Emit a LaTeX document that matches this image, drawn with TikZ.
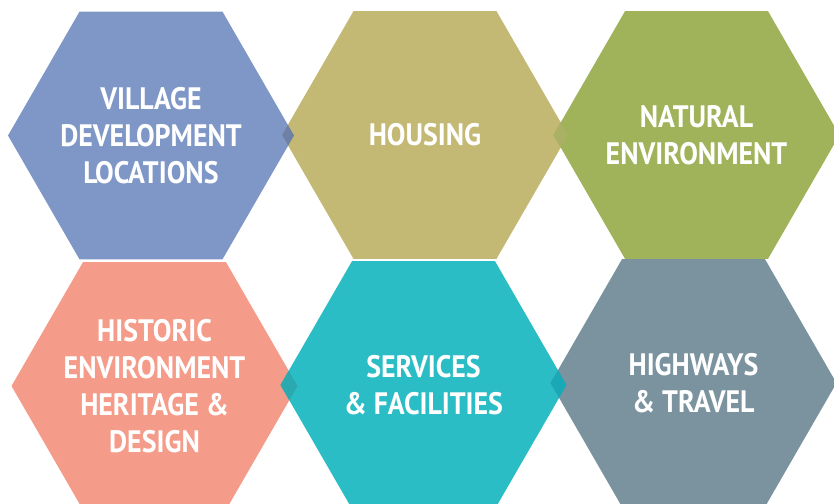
\documentclass[tikz,border=0pt]{standalone}
\usepackage{fontspec}
\newfontfamily\hexfont[FakeStretch=0.9]{PT Sans}
\usetikzlibrary{shapes.geometric}
\definecolor{hblue}{HTML}{7F97C7}
\definecolor{holive}{HTML}{C3B874}
\definecolor{hgreen}{HTML}{A0B35A}
\definecolor{hsalmon}{HTML}{F59B89}
\definecolor{hteal}{HTML}{2BBDC5}
\definecolor{hslate}{HTML}{7A939F}
\definecolor{ovbo}{HTML}{6E80A6}
\definecolor{ovog}{HTML}{AAB064}
\definecolor{ovst}{HTML}{2AA9AF}
\definecolor{ovts}{HTML}{19A8B5}
\tikzset{
  hexa/.style={regular polygon, regular polygon sides=6,
    minimum size=286pt, inner sep=0pt, outer sep=0pt, draw=none, fill=#1},
  hexlabel/.style={text=white, align=center, font=\hexfont\bfseries\fontsize{31}{37}\selectfont},
  hexp/.style={insert path={(#1.corner 1) -- (#1.corner 2) -- (#1.corner 3) -- (#1.corner 4) -- (#1.corner 5) -- (#1.corner 6) -- cycle}}
}
\begin{document}
\begin{tikzpicture}[x=1pt,y=-1pt]
\useasboundingbox (0,0) rectangle (834,503);
\node[hexa=hblue]   (h1) at (151,135.5) {};
\node[hexa=holive]  (h2) at (425,135) {};
\node[hexa=hgreen]  (h3) at (696.5,135) {};
\node[hexa=hsalmon] (h4) at (154.5,386) {};
\node[hexa=hteal]   (h5) at (423.5,385) {};
\node[hexa=hslate]  (h6) at (693.5,383) {};
\begin{scope}
\clip[hexp=h1]; \fill[ovbo, hexp=h2];
\end{scope}
\begin{scope}
\clip[hexp=h2]; \fill[ovog, hexp=h3];
\end{scope}
\begin{scope}
\clip[hexp=h4]; \fill[ovst, hexp=h5];
\end{scope}
\begin{scope}
\clip[hexp=h5]; \fill[ovts, hexp=h6];
\end{scope}
\node[hexlabel] (t1) at (h1.center) {VILLAGE\\DEVELOPMENT\\LOCATIONS};
\node[hexlabel] (t2) at (h2.center) {HOUSING};
\node[hexlabel] (t3) at (h3.center) {NATURAL\\ENVIRONMENT};
\node[hexlabel] (t4) at (h4.center) {HISTORIC\\ENVIRONMENT\\HERITAGE \&\\DESIGN};
\node[hexlabel] (t5) at (h5.center) {SERVICES\\\& FACILITIES};
\node[hexlabel] (t6) at (h6.center) {HIGHWAYS\\\& TRAVEL};
\end{tikzpicture}
\end{document}
